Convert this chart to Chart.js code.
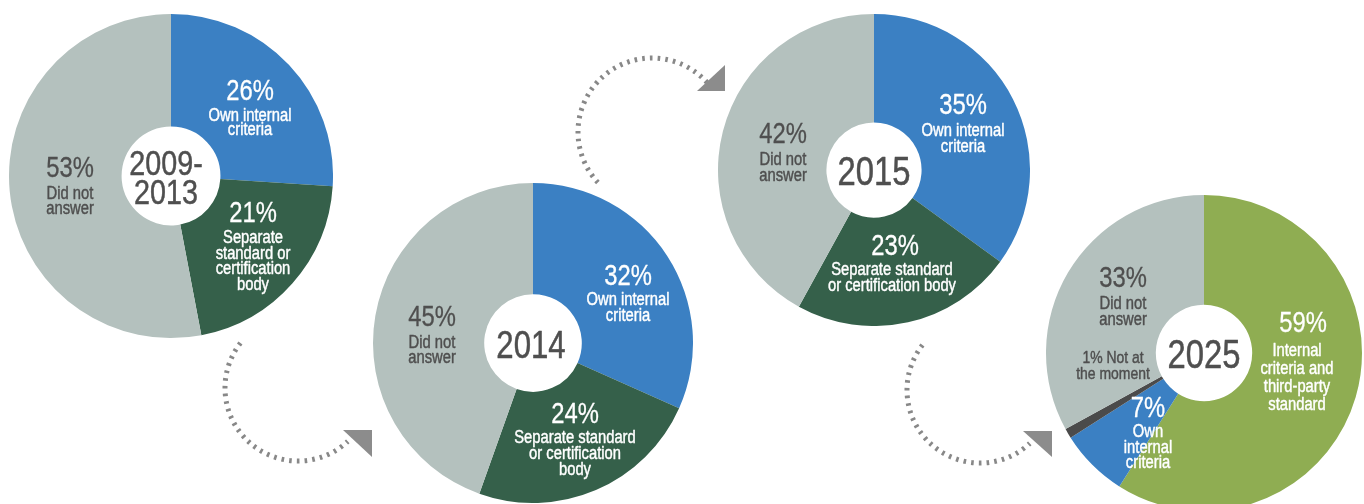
<!DOCTYPE html>
<html><head><meta charset="utf-8">
<script src="https://cdn.jsdelivr.net/npm/chart.js@4/dist/chart.umd.min.js"></script>
<style>
html,body{margin:0;padding:0;background:#fff;overflow:hidden;}
#stage{position:relative;width:1364px;height:504px;overflow:hidden;background:#fff;}
canvas.pie{position:absolute;}
#arrows{position:absolute;left:0;top:0;}
</style></head><body>
<div id="stage">
<svg id="arrows" width="1364" height="504"></svg>
<canvas id="p1" class="pie"></canvas>
<canvas id="p2" class="pie"></canvas>
<canvas id="p3" class="pie"></canvas>
<canvas id="p4" class="pie"></canvas>
</div>
<script>
// ---------- DATA ----------
const periods = ['2009-2013', '2014', '2015', '2025'];
const yearLines = [['2009-', '2013'], ['2014'], ['2015'], ['2025']];
const categoriesEarly = ['Own internal criteria', 'Separate standard or certification body', 'Did not answer'];
const values2009 = [26, 21, 53];
const values2014 = [32, 24, 45];
const values2015 = [35, 23, 42];
const categories2025 = ['Internal criteria and third-party standard', 'Own internal criteria', 'Not at the moment', 'Did not answer'];
const values2025 = [59, 7, 1, 33];

// ---------- STYLE ----------
const BLUE = '#3b80c3', DKGREEN = '#35604a', GREY = '#b4c1be', OLIVE = '#8fad52', DARK = '#4b4b4b';
const TEXT_DARK = '#4f4f4f';
const FONT = '"Liberation Sans", Arial, sans-serif';
const SX = 0.82;

function txt(ctx, s, x, y, size, color, w) {
  ctx.save();
  ctx.font = size + 'px ' + FONT;
  ctx.fillStyle = color;
  ctx.strokeStyle = color;
  ctx.lineWidth = w || 0.45;
  ctx.lineJoin = 'round';
  ctx.textAlign = 'center';
  ctx.textBaseline = 'alphabetic';
  ctx.translate(x, y);
  ctx.scale(SX, 1);
  ctx.fillText(s, 0, 0);
  ctx.strokeText(s, 0, 0);
  ctx.restore();
}

const labelPlugin = {
  id: 'sliceLabels',
  afterDatasetsDraw(chart, args, opts) {
    const ctx = chart.ctx;
    const a = chart.getDatasetMeta(0).data[0];
    const cx = a.x, cy = a.y;
    const vals = chart.data.datasets[0].data;
    (opts.items || []).forEach(it => {
      const v = vals[it.index];
      if (it.inline) {
        txt(ctx, v + '% ' + it.lines[0], cx + it.dx, cy + it.dy, it.sub || 17, it.color);
        for (let k = 1; k < it.lines.length; k++)
          txt(ctx, it.lines[k], cx + it.dx, cy + it.dy + k * it.lh, it.sub || 17, it.color);
        return;
      }
      txt(ctx, v + '%', cx + it.dx, cy + it.dy, opts.pctSize, it.color, 0.3);
      const ldx = it.ldx !== undefined ? it.ldx : it.dx;
      it.lines.forEach((l, k) => txt(ctx, l, cx + ldx, cy + it.ly + k * it.lh, opts.subSize, it.color));
    });
    const y = opts.year;
    y.lines.forEach((l, k) => txt(ctx, l, cx + y.dx, cy + y.dy + k * y.lh, y.size, TEXT_DARK, 0.5));
  }
};

function makePie(id, cx, cy, r, labels, values, colors, labelOpts) {
  const c = document.getElementById(id);
  c.width = 2 * r; c.height = 2 * r;
  c.style.left = (cx - r) + 'px'; c.style.top = (cy - r) + 'px';
  c.style.width = 2 * r + 'px'; c.style.height = 2 * r + 'px';
  return new Chart(c, {
    type: 'doughnut',
    data: { labels: labels, datasets: [{ data: values, backgroundColor: colors, borderWidth: 0, hoverOffset: 0, offset: 0 }] },
    options: {
      responsive: false, animation: false, devicePixelRatio: 1, events: [],
      cutout: '30.5%',
      layout: { padding: 0 },
      plugins: { legend: { display: false }, tooltip: { enabled: false }, sliceLabels: labelOpts }
    },
    plugins: [labelPlugin]
  });
}

makePie('p1', 171, 176, 162, categoriesEarly, values2009, [BLUE, DKGREEN, GREY], {
  pctSize: 29, subSize: 18,
  items: [
    { index: 0, dx: 79, dy: -76, ly: -55, lh: 14, color: '#fff', lines: ['Own internal', 'criteria'] },
    { index: 1, dx: 82, dy: 46, ly: 67, lh: 15.5, color: '#fff', lines: ['Separate', 'standard or', 'certification', 'body'] },
    { index: 2, dx: -101, dy: 1, ly: 23, lh: 15, color: TEXT_DARK, lines: ['Did not', 'answer'] }
  ],
  year: { lines: yearLines[0], dx: -5, dy: -1, lh: 29, size: 35 }
});

makePie('p2', 533, 343, 160, categoriesEarly, values2014, [BLUE, DKGREEN, GREY], {
  pctSize: 29, subSize: 18,
  items: [
    { index: 0, dx: 95, dy: -58, ly: -38, lh: 16, color: '#fff', lines: ['Own internal', 'criteria'] },
    { index: 1, dx: 42, dy: 80, ly: 100, lh: 16, color: '#fff', lines: ['Separate standard', 'or certification', 'body'] },
    { index: 2, dx: -101, dy: -17, ly: 5, lh: 15, color: TEXT_DARK, lines: ['Did not', 'answer'] }
  ],
  year: { lines: yearLines[1], dx: -2, dy: 15, lh: 0, size: 38 }
});

makePie('p3', 874, 170, 156, categoriesEarly, values2015, [BLUE, DKGREEN, GREY], {
  pctSize: 29, subSize: 18,
  items: [
    { index: 0, dx: 89, dy: -56, ly: -34, lh: 16, color: '#fff', lines: ['Own internal', 'criteria'] },
    { index: 1, dx: 21, dy: 85, ldx: 18, ly: 105, lh: 16, color: '#fff', lines: ['Separate standard', 'or certification body'] },
    { index: 2, dx: -91, dy: -27, ly: -5, lh: 16, color: TEXT_DARK, lines: ['Did not', 'answer'] }
  ],
  year: { lines: yearLines[2], dx: 0, dy: 15, lh: 0, size: 40 }
});

makePie('p4', 1204, 353, 158, categories2025, values2025, [OLIVE, BLUE, DARK, GREY], {
  pctSize: 29, subSize: 18,
  items: [
    { index: 0, dx: 99, dy: -21, ldx: 93, ly: 3, lh: 18, color: '#fff', lines: ['Internal', 'criteria and', 'third-party', 'standard'] },
    { index: 1, dx: -56, dy: 64, ly: 84, lh: 15.5, color: '#fff', lines: ['Own', 'internal', 'criteria'] },
    { index: 2, inline: true, dx: -91, dy: 10, lh: 16, sub: 17, color: TEXT_DARK, lines: ['Not at', 'the moment'] },
    { index: 3, dx: -81, dy: -66, ly: -44, lh: 16, color: TEXT_DARK, lines: ['Did not', 'answer'] }
  ],
  year: { lines: yearLines[3], dx: 0, dy: 15, lh: 0, size: 40 }
});

// ---------- decorative dotted arrows ----------
const svg = document.getElementById('arrows');
const NS = 'http://www.w3.org/2000/svg';
function arrow(cx, cy, r, a0, a1, sweep, tri) {
  const rad = d => d * Math.PI / 180;
  const x0 = cx + r * Math.cos(rad(a0)), y0 = cy + r * Math.sin(rad(a0));
  const x1 = cx + r * Math.cos(rad(a1)), y1 = cy + r * Math.sin(rad(a1));
  let span = sweep ? (a1 - a0) : (a0 - a1);
  span = ((span % 360) + 360) % 360;
  const p = document.createElementNS(NS, 'path');
  p.setAttribute('d', `M ${x0} ${y0} A ${r} ${r} 0 ${span > 180 ? 1 : 0} ${sweep} ${x1} ${y1}`);
  p.setAttribute('fill', 'none');
  p.setAttribute('stroke', '#888888');
  p.setAttribute('stroke-width', '5');
  p.setAttribute('stroke-dasharray', '2.6 5.1');
  svg.appendChild(p);
  const t = document.createElementNS(NS, 'polygon');
  t.setAttribute('points', tri.map(q => q.join(',')).join(' '));
  t.setAttribute('fill', '#8c8c8c');
  svg.appendChild(t);
}
arrow(298, 388, 73, 218, 47, 0, [[343, 430], [372, 430], [372, 457]]);
arrow(652, 132, 74, 137, 318, 1, [[697, 91], [725, 65], [725, 91]]);
arrow(980, 390, 73, 218, 47, 0, [[1023, 431], [1052, 431], [1052, 457]]);
</script>
</body></html>
